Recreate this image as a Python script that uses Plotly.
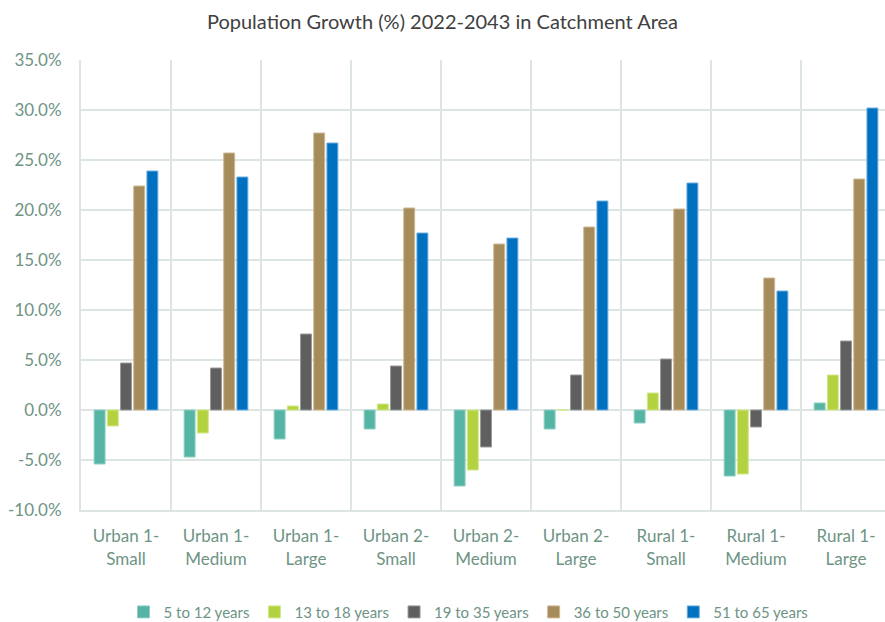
import plotly.graph_objects as go

categories = ["Urban 1-<br>Small", "Urban 1-<br>Medium", "Urban 1-<br>Large", "Urban 2-<br>Small",
              "Urban 2-<br>Medium", "Urban 2-<br>Large", "Rural 1-<br>Small", "Rural 1-<br>Medium",
              "Rural 1-<br>Large"]

series_names = ["5 to 12 years", "13 to 18 years", "19 to 35 years", "36 to 50 years", "51 to 65 years"]

age_5_12 = [-5.4, -4.7, -2.9, -1.9, -7.6, -1.9, -1.3, -6.6, 0.7]
age_13_18 = [-1.6, -2.3, 0.4, 0.6, -6.0, 0.0, 1.7, -6.4, 3.5]
age_19_35 = [4.7, 4.2, 7.6, 4.4, -3.7, 3.5, 5.1, -1.7, 6.9]
age_36_50 = [22.4, 25.7, 27.7, 20.2, 16.6, 18.3, 20.1, 13.2, 23.1]
age_51_65 = [23.9, 23.3, 26.7, 17.7, 17.2, 20.9, 22.7, 11.9, 30.2]

colors = ["#55B4A4", "#B2D33F", "#5F5F5F", "#A68B5B", "#0070C0"]
edge_colors = ["#8FD0C4", "#D2E88A", "#9A9A9A", "#CDB995", "#6FAEE0"]

tick_vals = [35, 30, 25, 20, 15, 10, 5, 0, -5, -10]
tick_text = ["35.0%", "30.0%", "25.0%", "20.0%", "15.0%", "10.0%", "5.0%", "0.0%", "-5.0%", "-10.0%"]

all_series = [age_5_12, age_13_18, age_19_35, age_36_50, age_51_65]

fig = go.Figure()
for name, vals, c, ec in zip(series_names, all_series, colors, edge_colors):
    fig.add_trace(go.Bar(
        x=categories, y=vals, name=name,
        marker=dict(color=c, line=dict(color=ec, width=1)),
    ))

grid_c = "#DCE5E2"
axis_font = dict(family="Lato, 'Open Sans', sans-serif", size=17, color="#6E9484")

fig.update_layout(
    width=885, height=622,
    margin=dict(l=81, r=0, t=60, b=112, autoexpand=False),
    paper_bgcolor="white", plot_bgcolor="white",
    title=dict(text="Population Growth (%) 2022-2043 in Catchment Area",
               x=0.5, xanchor="center", y=1 - 22 / 622, yanchor="middle",
               font=dict(family="Lato, 'Open Sans', sans-serif", size=20, color="#404040")),
    barmode="group", bargap=0.267, bargroupgap=0.17,
    showlegend=True,
    legend=dict(orientation="h", x=0.482, xanchor="center", y=-0.227, yanchor="middle",
                font=dict(family="Lato, 'Open Sans', sans-serif", size=15, color="#6E9484"),
                itemwidth=30, traceorder="normal"),
    xaxis=dict(type="category", range=[-0.5, 8.433], tickson="boundaries",
               showgrid=True, gridcolor=grid_c, gridwidth=2,
               showline=True, linecolor=grid_c, linewidth=2,
               ticks="", tickfont=axis_font, fixedrange=True,
               automargin=False, ticklabelstandoff=10),
    yaxis=dict(range=[-10, 35], tickvals=tick_vals, ticktext=tick_text,
               showgrid=True, gridcolor=grid_c, gridwidth=2,
               showline=True, linecolor=grid_c, linewidth=2,
               zeroline=False, ticks="", ticklabelstandoff=14,
               tickfont=axis_font, automargin=False),
)

fig.write_html("out.html", post_script="document.body.style.margin='0';",
               config={"displayModeBar": False})
